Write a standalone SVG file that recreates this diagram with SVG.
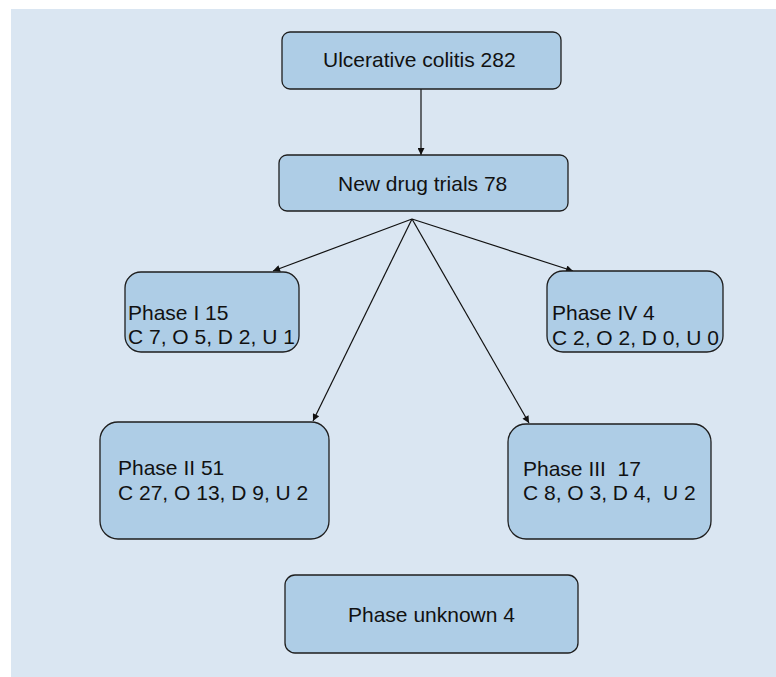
<svg xmlns="http://www.w3.org/2000/svg" width="776" height="677" viewBox="0 0 776 677">
<style>
.box{fill:#aecde6;stroke:#1e1e1e;stroke-width:1.3}
.t{font-family:"Liberation Sans",Arial,sans-serif;font-size:21px;fill:#111}
.c{stroke:#111;stroke-width:1.2;fill:none;marker-end:url(#ah)}
</style>
<defs>
<marker id="ah" viewBox="0 0 10 10" refX="10" refY="5" markerWidth="11" markerHeight="7" markerUnits="userSpaceOnUse" orient="auto">
<path d="M0,0 L10,5 L0,10 z" fill="#111"/>
</marker>
</defs>
<rect x="0" y="0" width="776" height="677" fill="#ffffff"/>
<rect x="11" y="9" width="765" height="668" fill="#dae6f2"/>
<g id="connectors">
<line class="c" x1="421" y1="89" x2="421" y2="155"/>
<line class="c" x1="412" y1="219" x2="273" y2="271"/>
<line class="c" x1="412" y1="219" x2="573" y2="271"/>
<line class="c" x1="412" y1="219" x2="313" y2="421"/>
<line class="c" x1="412" y1="219" x2="529" y2="423"/>
</g>
<g id="n_uc">
<rect class="box" x="282" y="32" width="279" height="57" rx="8"/>
<text class="t" x="323" y="67">Ulcerative colitis 282</text>
</g>
<g id="n_ndt">
<rect class="box" x="279" y="155" width="289" height="56" rx="8"/>
<text class="t" x="338" y="191">New drug trials 78</text>
</g>
<g id="n_p1">
<rect class="box" x="125" y="272" width="174" height="80" rx="16"/>
<text class="t" x="128" y="320">Phase I 15</text>
<text class="t" x="128" y="344">C 7, O 5, D 2, U 1</text>
</g>
<g id="n_p4">
<rect class="box" x="547" y="271" width="176" height="81" rx="16"/>
<text class="t" x="552" y="320">Phase IV 4</text>
<text class="t" x="552" y="345">C 2, O 2, D 0, U 0</text>
</g>
<g id="n_p2">
<rect class="box" x="100" y="422" width="229" height="117" rx="18"/>
<text class="t" x="118" y="475">Phase II 51</text>
<text class="t" x="118" y="500">C 27, O 13, D 9, U 2</text>
</g>
<g id="n_p3">
<rect class="box" x="508" y="424" width="203" height="115" rx="18"/>
<text class="t" x="523" y="476" xml:space="preserve">Phase III  17</text>
<text class="t" x="523" y="500" xml:space="preserve">C 8, O 3, D 4,  U 2</text>
</g>
<g id="n_pu">
<rect class="box" x="285" y="575" width="293" height="78" rx="10"/>
<text class="t" x="348" y="622">Phase unknown 4</text>
</g>
</svg>
